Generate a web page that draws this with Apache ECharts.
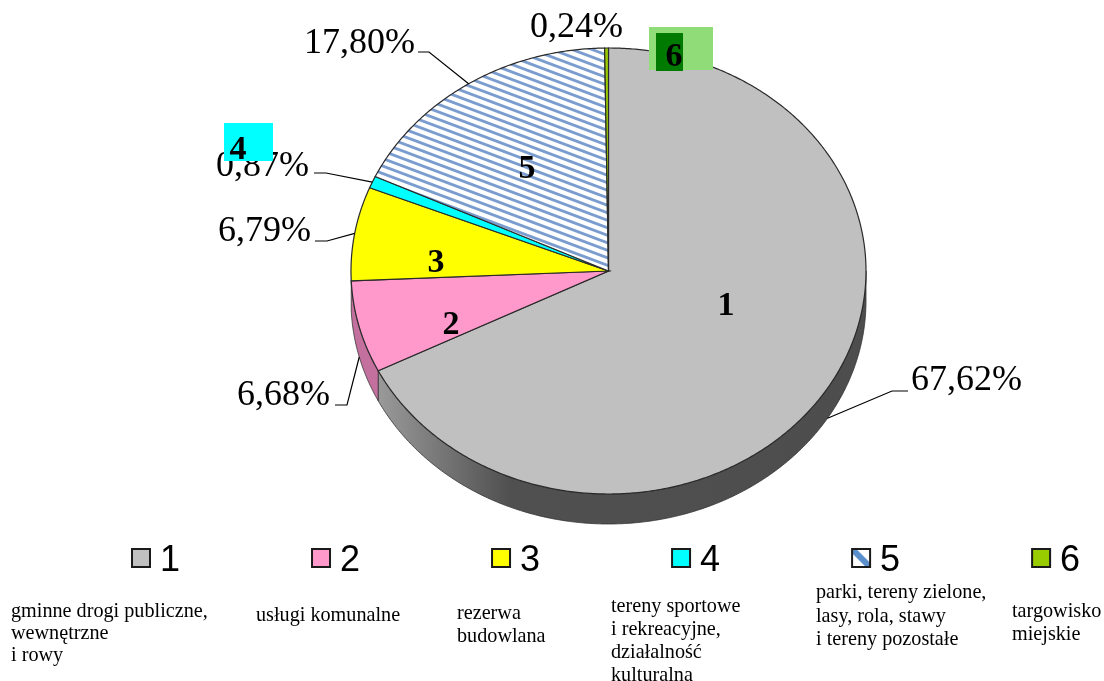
<!DOCTYPE html>
<html>
<head>
<meta charset="utf-8">
<style>html,body{margin:0;padding:0;background:#fff}#chart{width:1104px;height:681px}</style>
<script src="https://cdn.jsdelivr.net/npm/echarts@6/dist/echarts.min.js"></script>
</head>
<body>
<div id="chart"></div>
<script>
// ---- data ----
const categories = ['1', '2', '3', '4', '5', '6'];
const values = [67.62, 6.68, 6.79, 0.87, 17.80, 0.24];
const percentLabels = ['67,62%', '6,68%', '6,79%', '0,87%', '17,80%', '0,24%'];
const captions = [
  'gminne drogi publiczne,\nwewnętrzne\ni rowy',
  'usługi komunalne',
  'rezerwa\nbudowlana',
  'tereny sportowe\ni rekreacyjne,\ndziałalność\nkulturalna',
  'parki, tereny zielone,\nlasy, rola, stawy\ni tereny pozostałe',
  'targowisko\nmiejskie'
];

// ---- styles and layout ----
const topColors = ['#c0c0c0', '#ff99cc', '#ffff00', '#00ffff', null, '#99cc00'];
const pie = {cx: 608.5, cy: 271, rx: 257.5, ry: 223, depth: 30};
const captionPos = [[11, 601], [256, 605], [457, 602], [611, 595], [816, 581], [1012, 600]];
const captionLine = [22, 22, 23, 23, 23.5, 23];
const numberPos = [[726, 306], [451, 325], [436, 263], [238, 150], [527, 169], [674, 57]];
const numberBoxes = [null, null, null,
  [{x: 224, y: 123, w: 49, h: 38, c: '#00ffff'}],
  null,
  [{x: 649, y: 27, w: 64, h: 43, c: '#90dc78'}, {x: 656, y: 33, w: 27, h: 38, c: '#007a00'}]];
const labelPos = [[1022, 381], [330, 396], [311, 232], [309, 167], [415, 44], [623, 28]];
const elbows = [[[892, 391], [908, 391]], [[347, 405], [335, 405]], [[327, 241], [315, 241]],
  [[326, 173], [314, 173]], [[429, 52], [418, 52]], null];

function hatchTile(w, h, n, lw) {
  const c = document.createElement('canvas');
  c.width = w; c.height = h;
  const g = c.getContext('2d');
  g.fillStyle = '#ffffff'; g.fillRect(0, 0, w, h);
  g.strokeStyle = '#7a9cce'; g.lineWidth = lw;
  const p = h / n, s = p / w * n;
  for (let k = -n; k <= n; k++) {
    g.beginPath();
    g.moveTo(-2, k * p - 2 * s);
    g.lineTo(w + 2, k * p + h / 1 + 2 * s);
    g.stroke();
  }
  return c;
}
const hatch = {image: hatchTile(40, 15, 2, 2.9), repeat: 'repeat'};
const iconHatch = (function () {
  const c = document.createElement('canvas');
  c.width = 18; c.height = 18;
  const g = c.getContext('2d');
  g.fillStyle = '#ffffff'; g.fillRect(0, 0, 18, 18);
  g.strokeStyle = '#5b8fcc'; g.lineWidth = 6;
  g.beginPath(); g.moveTo(-2, -2); g.lineTo(20, 20); g.stroke();
  return {image: c, repeat: 'repeat'};
})();
const fills = topColors.map(c => c || hatch);

const total = values.reduce((a, b) => a + b, 0);
function startOf(i) { return values.slice(0, i).reduce((a, b) => a + b, 0) / total * 360; }
function pt(deg, dy) {
  const r = deg * Math.PI / 180;
  return [pie.cx + pie.rx * Math.sin(r), pie.cy - pie.ry * Math.cos(r) + (dy || 0)];
}
function arc(a0, a1, dy) {
  const n = Math.max(2, Math.ceil(Math.abs(a1 - a0) / 0.5));
  const out = [];
  for (let k = 0; k <= n; k++) out.push(pt(a0 + (a1 - a0) * k / n, dy));
  return out;
}
const rimFills = [
  {type: 'linear', x: 0, y: 0, x2: 1, y2: 0, colorStops: [
    {offset: 0, color: '#9a9a9a'}, {offset: 0.27, color: '#505050'}, {offset: 1, color: '#4d4d4d'}]},
  '#c4709e', null, null, null, null];

function renderSlice(idx) {
  return function (params, api) {
    const v = api.value(0);
    const a0 = startOf(idx), a1 = a0 + v / total * 360;
    const mid = (a0 + a1) / 2;
    const children = [];
    if (rimFills[idx]) {
      const f = Math.max(a0, 90), t = Math.min(a1, 270);
      if (t > f) {
        children.push({
          type: 'polygon', z2: 1,
          shape: {points: arc(f, t, 0).concat(arc(t, f, pie.depth))},
          style: {fill: rimFills[idx], stroke: '#333333', lineWidth: 0.8}
        });
      }
    }
    children.push({
      type: 'polygon', z2: 2,
      shape: {points: [[pie.cx, pie.cy]].concat(arc(a0, a1, 0))},
      style: {fill: fills[idx], stroke: '#2a2a2a', lineWidth: 1.2}
    });
    if (elbows[idx]) {
      const side = rimFills[idx] && mid > 90 && mid < 270;
      children.push({
        type: 'polyline', z2: 5,
        shape: {points: [pt(mid, side ? pie.depth : 0)].concat(elbows[idx])},
        style: {fill: null, stroke: '#000000', lineWidth: 1.2}
      });
    }
    children.push({
      type: 'text', z2: 6,
      style: {x: labelPos[idx][0], y: labelPos[idx][1], text: percentLabels[idx], align: 'right',
        verticalAlign: 'middle', fill: '#000', font: '36px "Liberation Serif"'}
    });
    (numberBoxes[idx] || []).forEach(b => {
      children.push({type: 'rect', z2: 7, shape: {x: b.x, y: b.y, width: b.w, height: b.h},
        style: {fill: b.c}});
    });
    children.push({
      type: 'text', z2: 8,
      style: {x: numberPos[idx][0], y: numberPos[idx][1], text: categories[idx], align: 'center',
        verticalAlign: 'middle', fill: '#000', font: 'bold 34px "Liberation Serif"'}
    });
    return {type: 'group', children: children};
  };
}

const option = {
  animation: false,
  backgroundColor: '#ffffff',
  legend: {
    left: 126, top: 538, orient: 'horizontal', selectedMode: false,
    itemWidth: 18, itemHeight: 18, itemGap: 131,
    formatter: '{n|{name}}',
    textStyle: {fontFamily: 'Liberation Sans', fontSize: 36, color: '#000', padding: [0, 0, 0, 5],
      rich: {n: {fontFamily: 'Liberation Sans', fontSize: 36, color: '#000', padding: [6, 0, 0, 0]}}},
    data: categories.map((c, i) => ({
      name: c, icon: 'rect',
      itemStyle: {color: topColors[i] || iconHatch, borderColor: '#1a1a1a', borderWidth: 2}
    }))
  },
  graphic: captions.map((t, i) => ({
    type: 'text', left: captionPos[i][0], top: captionPos[i][1],
    style: {text: t, fill: '#000', font: '20.2px "Liberation Serif"', lineHeight: captionLine[i]}
  })),
  series: categories.map((c, i) => ({
    type: 'custom', name: c, coordinateSystem: 'none', silent: true,
    itemStyle: {color: topColors[i] || '#7a9cce'},
    data: [[values[i]]],
    renderItem: renderSlice(i)
  }))
};
const chart = echarts.init(document.getElementById('chart'), null, {renderer: 'canvas'});
chart.setOption(option);
</script>
</body>
</html>
